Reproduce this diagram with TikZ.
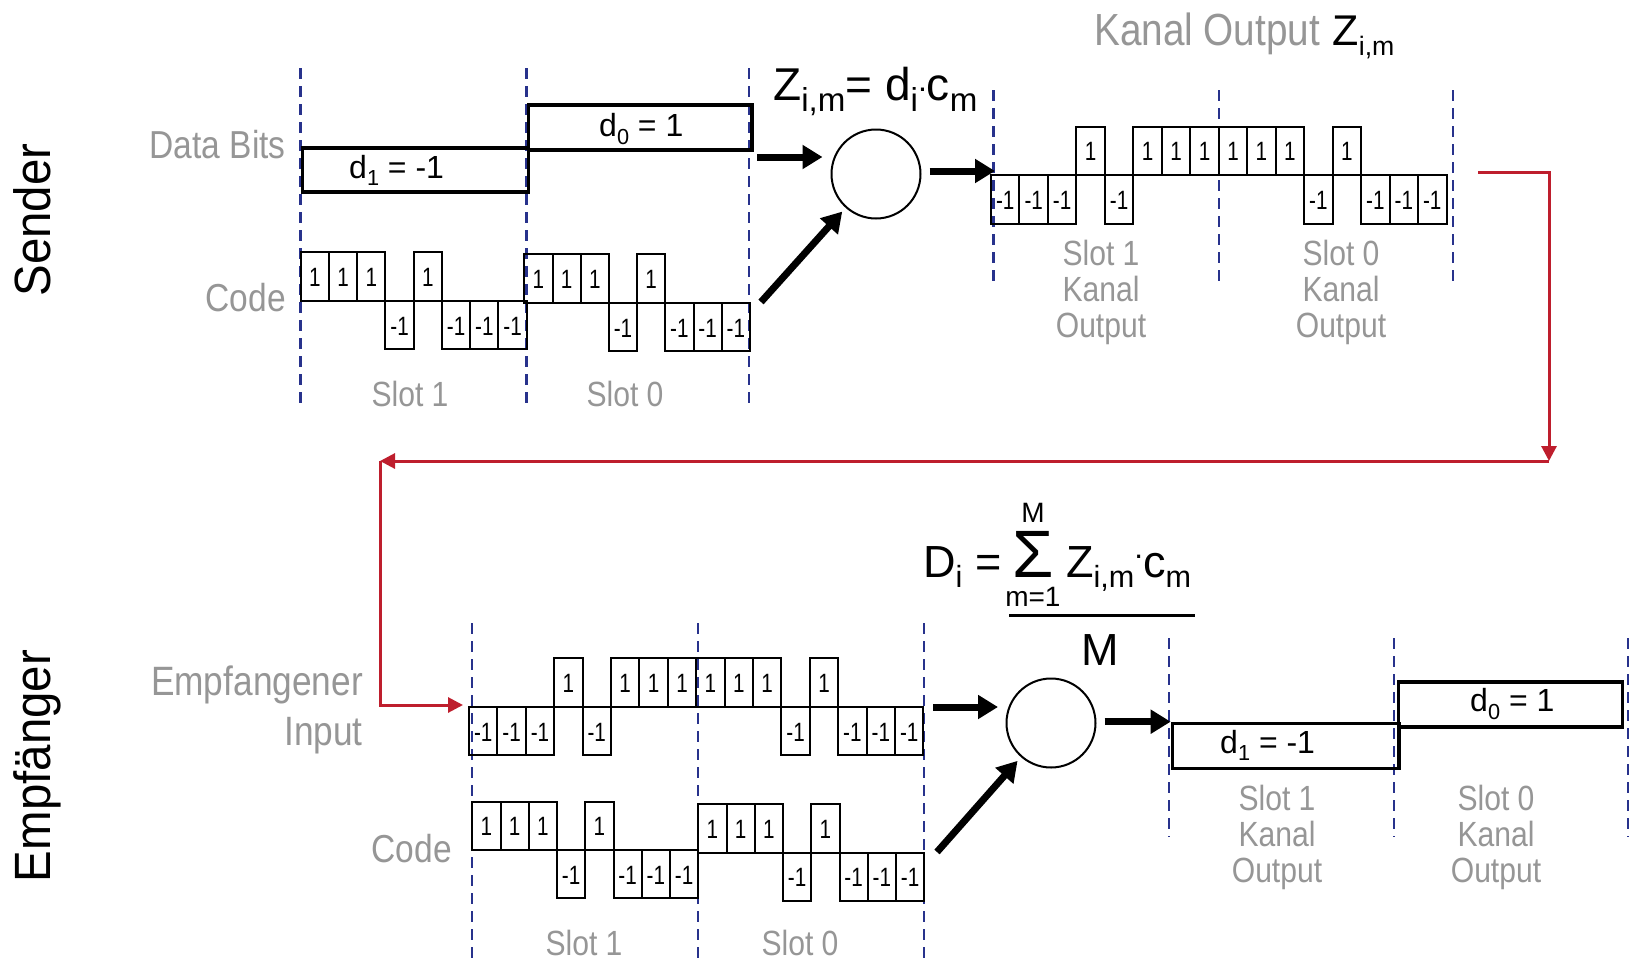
\documentclass[tikz,border=0pt]{standalone}
\usepackage{fontspec}
\usepackage{graphicx}
\usetikzlibrary{arrows.meta}
\setmainfont{Liberation Sans}
\newfontfamily\narrowf[FakeStretch=0.86]{Liberation Sans}
\newfontfamily\chipf[FakeStretch=0.78]{Liberation Sans}
\newfontfamily\sidef[FakeStretch=0.93]{Liberation Sans}
\definecolor{txtgray}{RGB}{150,150,150}
\definecolor{guideblue}{RGB}{40,50,140}
\definecolor{arrowred}{RGB}{190,30,45}
\newcommand\lo[1]{\raisebox{-0.24em}{\scalebox{0.68}{#1}}}
\newcommand\lob[1]{\raisebox{-0.24em}{\scalebox{0.72}{#1}}}
\newcommand\dotr[1]{\raisebox{#1}{\scalebox{0.7}{.}}}
\newsavebox\sigbox
\newcommand\sumstack{%
  \sbox\sigbox{\fontsize{67}{70}\selectfont Σ}%
  \hbox to \wd\sigbox{\hss\raisebox{55pt}{\fontsize{28}{30}\selectfont M}\hss}\kern-\wd\sigbox
  \hbox to \wd\sigbox{\hss\raisebox{-29pt}{\fontsize{28}{30}\selectfont m=1}\hss}\kern-\wd\sigbox
  \usebox\sigbox}
\newcommand\wave[6]{% #1 name, #2 x0, #3 y0, #4 chip width, #5 chip height, #6 chips
  \foreach \v [count=\i from 0] in {#6} {
    \pgfmathsetmacro\xa{#2+\i*#4}
    \pgfmathsetmacro\xb{#2+(\i+1)*#4}
    \pgfmathsetmacro\yb{#3-(\v)*#5}
    \draw[chip] (\xa,#3) rectangle (\xb,\yb);
    \node[chiplbl] (#1-\i) at ({(\xa+\xb)/2},{(#3+\yb)/2+1}) {\ifnum\v>0 1\else -1\fi};
  }%
}
\begin{document}
\begin{tikzpicture}[x=1pt,y=-1pt,
  chip/.style={draw=black, line width=2pt},
  chiplbl/.style={font=\chipf\fontsize{26.5}{30}\selectfont, inner sep=0},
  dbox/.style={draw=black, line width=3.6pt, inner sep=0},
  dlbl/.style={font=\fontsize{32}{38}\selectfont, anchor=base west, inner sep=0},
  graylbl/.style={text=txtgray, font=\narrowf\fontsize{39}{50}\selectfont, inner sep=0},
  slotlbl/.style={text=txtgray, font=\narrowf\fontsize{35}{36}\selectfont, inner sep=0, align=center},
  sidelbl/.style={font=\sidef\fontsize{51}{60}\selectfont, rotate=90, anchor=base, inner sep=0},
  guide/.style={draw=guideblue, line width=2.5pt, dash pattern=on 11pt off 7pt},
  bigarrow/.style={line width=7pt, -{Triangle[length=20pt,width=23pt]}},
  redarrow/.style={draw=arrowred, line width=3pt, -{Triangle[length=15pt,width=15pt]}},
  summer/.style={circle, draw=black, line width=2pt, minimum size=89pt, inner sep=0}
]
\useasboundingbox (0,0) rectangle (1634,962);

% dashed slot guides
\foreach \gx/\ya/\yb in {300.7/68/406, 526.7/68/406, 749/68/406,
  993.3/90/287, 1219/90/287, 1453/90/287,
  472/623/962, 698/623/962, 924/623/962,
  1169/638/837, 1394/638/837, 1628/638/837}
  \draw[guide] (\gx,\ya) -- (\gx,\yb);

% side titles
\node[sidelbl] (sender) at (50,220) {Sender};
\node[sidelbl] (empfaenger) at (50,766) {Empfänger};

% ---------- Sender ----------
\node[graylbl, anchor=base east] (databits) at (286,158) {Data Bits};
\node[graylbl, anchor=base east] (code1) at (286,311) {Code};

\node[dbox, minimum width=226pt, minimum height=44pt, anchor=north west] (d1s) at (300.7,146) {};
\node[dbox, minimum width=223.3pt, minimum height=45pt, anchor=north west] (d0s) at (526.7,103.3) {};
\node[dlbl] (t1s) at (349,178) {d\lo{1} = -1};
\node[dlbl] (t0s) at (599,136.5) {d\lo{0} = 1};

\wave{cs1}{300.7}{300.7}{28.25}{48.5}{1,1,1,-1,1,-1,-1,-1}
\wave{cs0}{524.3}{302.7}{28.2}{48.5}{1,1,1,-1,1,-1,-1,-1}

\node[slotlbl, anchor=base] (s1a) at (410,406) {Slot 1};
\node[slotlbl, anchor=base] (s0a) at (625,406) {Slot 0};

\node[anchor=base west, inner sep=0, font=\fontsize{46}{50}\selectfont] (fz) at (773,100) {Z\lob{i,m}= d\lob{i}\dotr{0.18em}c\lob{m}};
\node[summer] (c1) at (876,174) {};

\coordinate (a1s) at (757,157);
\draw[bigarrow, shorten >=8pt] (a1s) -- (c1.west |- a1s);
\coordinate (a3s) at (761,302);
\draw[bigarrow, shorten >=5pt] (a3s) -- (c1);
\coordinate (k1in) at (995,171);
\draw[bigarrow, shorten <=8pt] (c1.east |- k1in) -- (k1in);

\node[anchor=base west, inner sep=0, font=\fontsize{45}{50}\selectfont] (hdr) at (1094,45) {{\narrowf\color{txtgray}Kanal Output} {\fontsize{43}{50}\selectfont Z\raisebox{-0.24em}{\scalebox{0.62}{i,m}}}};
\wave{ko}{991}{175}{28.47}{48.5}{-1,-1,-1,1,-1,1,1,1,1,1,1,-1,1,-1,-1,-1}
\node[slotlbl, anchor=north] (s1b) at (1101,240) {Slot 1\\Kanal\\Output};
\node[slotlbl, anchor=north] (s0b) at (1341,240) {Slot 0\\Kanal\\Output};

% red channel connector
\coordinate (r0) at (1478,172);
\coordinate (r1) at (1549,461);
\coordinate (r2) at (380,461);
\coordinate (inp) at (463,705);
\draw[redarrow] (r0) -| (r1);
\draw[redarrow] (r1) -- (r2);
\draw[redarrow] (r2) |- (inp);

% ---------- Empfaenger ----------
\node[graylbl, anchor=north east, align=right, font=\narrowf\fontsize{41}{50}\selectfont] (empf) at (363,666) {Empfangener\\Input};
\node[graylbl, anchor=base east] (code2) at (452,862) {Code};

\wave{ei}{469}{706.7}{28.4}{48.5}{-1,-1,-1,1,-1,1,1,1,1,1,1,-1,1,-1,-1,-1}
\wave{cr1}{472.3}{850}{28.25}{48.3}{1,1,1,-1,1,-1,-1,-1}
\wave{cr0}{698.3}{852.7}{28.25}{48.3}{1,1,1,-1,1,-1,-1,-1}

\node[slotlbl, anchor=base] (s1d) at (584,955) {Slot 1};
\node[slotlbl, anchor=base] (s0d) at (800,955) {Slot 0};

% decision formula
\node[anchor=base west, inner sep=0, font=\fontsize{45}{50}\selectfont] (fd) at (923,577) {D\lo{i} =};
\node[anchor=base west, inner sep=0] (fsig) at (1012,577) {\sumstack};
\node[anchor=base west, inner sep=0, font=\fontsize{45}{50}\selectfont] (fzc) at (1066,577) {Z\lo{i,m}\dotr{0.42em}c\lo{m}};
\draw[line width=3pt] (1009,615) -- (1195,615);
\node[anchor=base, inner sep=0, font=\fontsize{45}{50}\selectfont] (fm) at (1100,665) {M};

\node[summer] (c2) at (1051,723) {};
\node[dbox, minimum width=226.3pt, minimum height=45pt, anchor=north west] (d1r) at (1170.7,721.7) {};
\node[dbox, minimum width=224pt, minimum height=45pt, anchor=north west] (d0r) at (1396.7,680) {};
\node[dlbl] (t1r) at (1220,753) {d\lo{1} = -1};
\node[dlbl] (t0r) at (1470,711.5) {d\lo{0} = 1};

\coordinate (a4s) at (933,707);
\draw[bigarrow, shorten >=7.5pt] (a4s) -- (c2.west |- a4s);
\coordinate (a6s) at (937,852);
\draw[bigarrow, shorten >=5pt] (a6s) -- (c2);
\draw[bigarrow, shorten <=8pt] (c2.east |- d1r.north west) -- (d1r.north west);

\node[slotlbl, anchor=north] (s1c) at (1277,784.5) {Slot 1\\Kanal\\Output};
\node[slotlbl, anchor=north] (s0c) at (1496,784.5) {Slot 0\\Kanal\\Output};
\end{tikzpicture}
\end{document}
